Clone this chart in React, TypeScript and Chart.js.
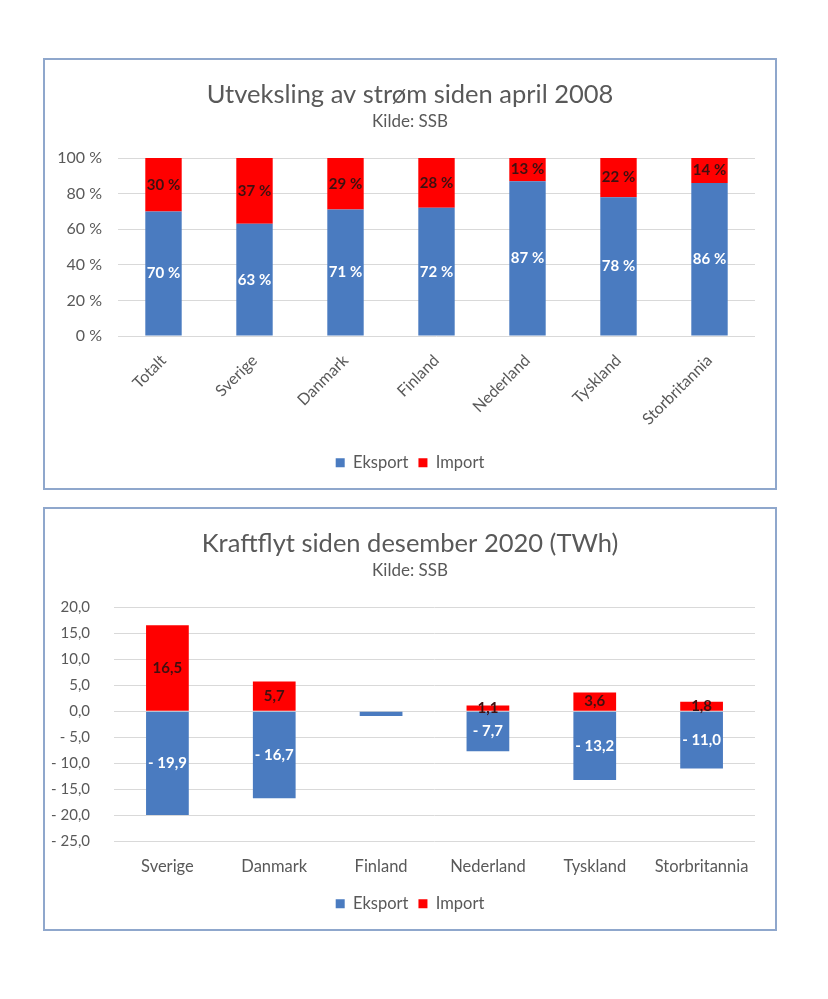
import React, { useEffect, useRef } from "react";
import { Chart, registerables } from "chart.js";

Chart.register(...registerables);

// ---------- Data ----------
const shareCategories = ["Totalt", "Sverige", "Danmark", "Finland", "Nederland", "Tyskland", "Storbritannia"];
const shareExport = [70, 63, 71, 72, 87, 78, 86];
const shareImport = [30, 37, 29, 28, 13, 22, 14];

const flowCategories = ["Sverige", "Danmark", "Finland", "Nederland", "Tyskland", "Storbritannia"];
const flowExport = [-19.9, -16.7, -0.9, -7.7, -13.2, -11.0];
const flowImport = [16.5, 5.7, 0, 1.1, 3.6, 1.8];

const seriesNames = ["Eksport", "Import"];

const FONT = "Lato, 'Liberation Sans', sans-serif";
const BLUE = "#4a7bc0";
const RED = "#ff0000";
const GRAY = "#595959";
const GRID = "#d9d9d9";
const EXPORT_LABEL = "#ffffff";
const IMPORT_LABEL = "#3f1010";

const fmtComma = (v: number) => {
  const s = Math.abs(v).toFixed(1).replace(".", ",");
  return v < 0 ? "- " + s : s;
};

function segLabels(fmt: (v: number) => string, minAbs: number) {
  return {
    id: "segLabels",
    afterDatasetsDraw(chart: any) {
      const ctx = chart.ctx;
      chart.data.datasets.forEach((ds: any, i: number) => {
        const meta = chart.getDatasetMeta(i);
        meta.data.forEach((el: any, j: number) => {
          const v = ds.data[j] as number;
          if (Math.abs(v) < minAbs) return;
          const { x, y, base } = el.getProps(["x", "y", "base"], true);
          ctx.save();
          ctx.font = `bold 15px ${FONT}`;
          ctx.fillStyle = i === 0 ? EXPORT_LABEL : IMPORT_LABEL;
          ctx.textAlign = "center";
          ctx.textBaseline = "middle";
          ctx.fillText(fmt(v), x, (y + base) / 2);
          ctx.restore();
        });
      });
    },
  };
}

function titleOpts(text: string) {
  return {
    display: true,
    text,
    color: GRAY,
    font: { family: FONT, size: 25.5, weight: "normal" as const },
    padding: { top: 19, bottom: 0 },
  };
}
function subtitleOpts() {
  return {
    display: true,
    text: "Kilde: SSB",
    color: GRAY,
    font: { family: FONT, size: 17, weight: "normal" as const },
    padding: { top: 2, bottom: 26 },
  };
}
function legendOpts() {
  return {
    display: true,
    position: "bottom" as const,
    labels: {
      color: GRAY,
      font: { family: FONT, size: 16.5 },
      boxWidth: 9,
      boxHeight: 9,
      padding: 10,
    },
  };
}

// invisible right-hand spacer axis so that the full-width title/legend stay centred
const spacerAxis = {
  position: "right" as const,
  display: true,
  grid: { display: false, drawTicks: false },
  border: { display: false },
  ticks: { display: false },
  afterFit: (s: any) => {
    s.width = 20;
  },
};

function ShareChart() {
  const ref = useRef<HTMLCanvasElement>(null);
  useEffect(() => {
    const chart = new Chart(ref.current!, {
      type: "bar",
      data: {
        labels: shareCategories,
        datasets: [
          { label: seriesNames[0], data: shareExport, backgroundColor: BLUE, borderWidth: 0 },
          { label: seriesNames[1], data: shareImport, backgroundColor: RED, borderWidth: 0 },
        ],
      },
      options: {
        responsive: false,
        animation: false,
        layout: { padding: { left: 0, right: 0, top: 0, bottom: 7 } },
        datasets: { bar: { categoryPercentage: 1, barPercentage: 0.4 } },
        plugins: {
          title: titleOpts("Utveksling av strøm siden april 2008"),
          subtitle: subtitleOpts(),
          legend: legendOpts(),
          tooltip: { enabled: false },
        },
        scales: {
          x: {
            stacked: true,
            grid: { display: false, drawTicks: false },
            border: { display: false },
            ticks: {
              color: GRAY,
              font: { family: FONT, size: 16 },
              minRotation: 45,
              maxRotation: 45,
              padding: 15,
            },
            afterFit: (s: any) => {
              s.height = 108.5;
            },
          },
          y: {
            stacked: true,
            min: 0,
            max: 100,
            grid: { color: GRID, drawTicks: false },
            border: { display: false },
            ticks: {
              stepSize: 20,
              color: GRAY,
              font: { family: FONT, size: 16 },
              padding: 16,
              callback: (v: any) => `${v} %`,
            },
            afterFit: (s: any) => {
              s.width = 73;
            },
          },
          yR: { ...spacerAxis, min: 0, max: 100 },
        },
      },
      plugins: [segLabels((v) => `${v} %`, 1)],
    });
    return () => chart.destroy();
  }, []);
  return <canvas ref={ref} width={730} height={428} style={{ display: "block" }} />;
}

function FlowChart() {
  const ref = useRef<HTMLCanvasElement>(null);
  useEffect(() => {
    const chart = new Chart(ref.current!, {
      type: "bar",
      data: {
        labels: flowCategories,
        datasets: [
          { label: seriesNames[0], data: flowExport, backgroundColor: BLUE, borderWidth: 0 },
          { label: seriesNames[1], data: flowImport, backgroundColor: RED, borderWidth: 0 },
        ],
      },
      options: {
        responsive: false,
        animation: false,
        layout: { padding: { left: 0, right: 0, top: 0, bottom: 7 } },
        datasets: { bar: { categoryPercentage: 1, barPercentage: 0.4 } },
        plugins: {
          title: titleOpts("Kraftflyt siden desember 2020 (TWh)"),
          subtitle: subtitleOpts(),
          legend: legendOpts(),
          tooltip: { enabled: false },
        },
        scales: {
          x: {
            stacked: true,
            grid: { display: false, drawTicks: false },
            border: { display: false },
            ticks: {
              color: GRAY,
              font: { family: FONT, size: 16.5 },
              maxRotation: 0,
              padding: 15,
            },
            afterFit: (s: any) => {
              s.height = 44;
            },
          },
          y: {
            stacked: true,
            min: -25,
            max: 20,
            grid: { color: GRID, drawTicks: false },
            border: { display: false },
            ticks: {
              stepSize: 5,
              color: GRAY,
              font: { family: FONT, size: 15 },
              padding: 24,
              callback: (v: any) => fmtComma(Number(v)),
            },
            afterFit: (s: any) => {
              s.width = 69;
            },
          },
          yR: { ...spacerAxis, min: -25, max: 20 },
        },
      },
      plugins: [segLabels(fmtComma, 1)],
    });
    return () => chart.destroy();
  }, []);
  return <canvas ref={ref} width={730} height={420} style={{ display: "block" }} />;
}

const boxStyle: React.CSSProperties = {
  position: "absolute",
  width: 730,
  border: "2px solid #8fa7cc",
  background: "#ffffff",
};

export default function App() {
  return (
    <div style={{ position: "relative", width: 828, height: 999 }}>
      <div style={{ ...boxStyle, top: 58 - 8, left: 43 - 8 }}>
        <ShareChart />
      </div>
      <div style={{ ...boxStyle, top: 507 - 8, left: 43 - 8 }}>
        <FlowChart />
      </div>
    </div>
  );
}
